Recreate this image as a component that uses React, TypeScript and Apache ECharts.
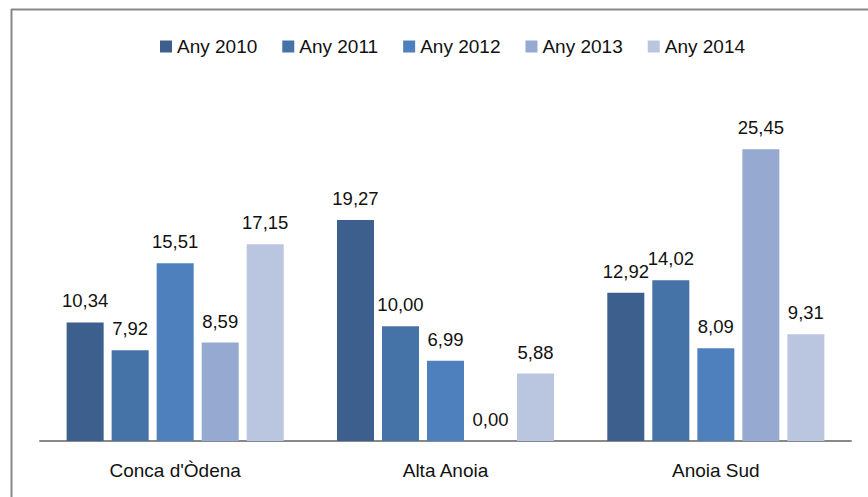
import React, { useEffect, useRef } from "react";
import * as echarts from "echarts";

const categories = ["Conca d'Òdena", "Alta Anoia", "Anoia Sud"];
const seriesNames = ["Any 2010", "Any 2011", "Any 2012", "Any 2013", "Any 2014"];
const values2010 = [10.34, 19.27, 12.92];
const values2011 = [7.92, 10.0, 14.02];
const values2012 = [15.51, 6.99, 8.09];
const values2013 = [8.59, 0.0, 25.45];
const values2014 = [17.15, 5.88, 9.31];
const colors = ["#3C5F8D", "#4572A7", "#4E80BD", "#95A9D1", "#BAC6E0"];

export default function App() {
  const ref = useRef<HTMLDivElement>(null);
  useEffect(() => {
    if (!ref.current) return;
    const chart = echarts.init(ref.current, null, { renderer: "svg" });
    const allValues = [values2010, values2011, values2012, values2013, values2014];
    const font = "Liberation Sans, Arial, sans-serif";
    chart.setOption({
      animation: false,
      backgroundColor: "#fff",
      textStyle: { fontFamily: font },
      legend: {
        top: 32,
        left: 155,
        itemWidth: 12,
        itemHeight: 12,
        itemGap: 25,
        icon: "rect",
        textStyle: { fontSize: 19, color: "#111", fontFamily: font },
        data: seriesNames,
      },
      grid: { left: 40, right: 17, top: 97, bottom: 56, containLabel: false },
      xAxis: {
        type: "category",
        data: categories,
        axisLine: { lineStyle: { color: "#888", width: 2 } },
        axisTick: { show: false },
        axisLabel: { fontSize: 19, color: "#111", margin: 20, fontFamily: font },
      },
      yAxis: {
        type: "value",
        min: 0,
        max: 30,
        show: false,
        splitLine: { show: false },
      },
      graphic: [
        { type: "line", shape: { x1: 11, y1: 9.5, x2: 868, y2: 9.5 }, style: { stroke: "#888", lineWidth: 2 } },
        { type: "line", shape: { x1: 11.5, y1: 9, x2: 11.5, y2: 497 }, style: { stroke: "#888", lineWidth: 2 } },
      ],
      series: seriesNames.map((name, i) => ({
        name,
        type: "bar",
        data: allValues[i],
        barGap: "21.6%",
        barCategoryGap: "19.7%",
        itemStyle: { color: colors[i] },
        label: {
          show: true,
          position: "top",
          distance: 12,
          fontSize: 18.5,
          color: "#111",
          fontFamily: font,
          formatter: (p: any) => Number(p.value).toFixed(2).replace(".", ","),
        },
      })),
    });
    return () => chart.dispose();
  }, []);
  return <div ref={ref} style={{ position: "absolute", left: 0, top: 0, width: 868, height: 497 }} />;
}
